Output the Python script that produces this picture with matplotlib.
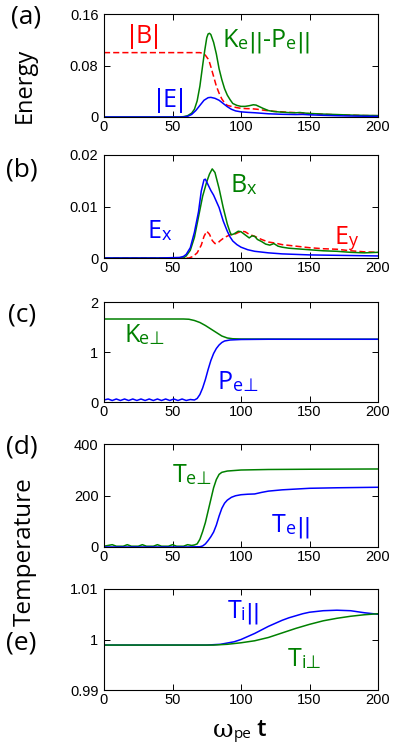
import matplotlib
matplotlib.use("Agg")
import matplotlib.pyplot as plt
from matplotlib.ticker import FixedLocator, FixedFormatter

GREEN = "#008000"
BLUE = "#0000ff"
RED = "#ff0000"
LAB_FONT = ["Open Sans", "DejaVu Sans"]
BAR_FONT = "DejaVu Sans"
TICK_FONT = "Liberation Sans"
PERP = "\u22a5"

# ---- panel (a): energy ----
ta_b = [0, 20, 40, 60, 70, 72, 74, 76, 77, 78, 80, 82, 84, 86, 88, 90, 94, 97, 100,
        104, 108, 112, 115, 118, 122, 126, 130, 135, 140, 145, 150, 160, 170, 180, 190, 200]
a_B = [0.1, 0.1, 0.1, 0.1, 0.1, 0.099, 0.096, 0.09, 0.085, 0.078, 0.063, 0.048, 0.037,
       0.028, 0.022, 0.018, 0.016, 0.0145, 0.0135, 0.013, 0.0128, 0.012, 0.011, 0.0102,
       0.0093, 0.0085, 0.008, 0.0072, 0.0068, 0.0062, 0.0052, 0.0042, 0.0034, 0.0028,
       0.0022, 0.002]
ta_k = [0, 20, 40, 55, 58, 61, 64, 66, 68, 70, 72, 73.5, 75, 76, 77, 78, 80, 82, 84,
        86, 88, 90, 92, 94, 97, 100, 103, 106, 109, 111, 113, 116, 120, 124, 130, 135,
        140, 143, 146, 150, 160, 170, 180, 190, 200]
a_K = [0, 0, 0, 0, 0.0005, 0.002, 0.006, 0.012, 0.025, 0.048, 0.08, 0.103, 0.123,
       0.129, 0.13, 0.128, 0.116, 0.098, 0.075, 0.058, 0.044, 0.034, 0.027, 0.021,
       0.018, 0.0165, 0.0165, 0.0175, 0.019, 0.0185, 0.0165, 0.0135, 0.01, 0.0085,
       0.0075, 0.0068, 0.0065, 0.007, 0.0062, 0.0055, 0.0045, 0.0038, 0.003, 0.0025,
       0.0022]
ta_e = [0, 20, 40, 58, 61, 64, 67, 70, 73, 76, 78, 81, 84, 87, 90, 93, 96, 100, 105,
        110, 115, 120, 130, 140, 145, 150, 160, 170, 180, 190, 200]
a_E = [0, 0, 0, 0, 0.001, 0.004, 0.01, 0.018, 0.026, 0.03, 0.0305, 0.029, 0.026,
       0.021, 0.016, 0.012, 0.0095, 0.008, 0.0072, 0.0066, 0.0058, 0.005, 0.0042,
       0.0038, 0.004, 0.0034, 0.0026, 0.002, 0.0015, 0.0012, 0.001]

# ---- panel (b): field components ----
tb_x = [0, 20, 40, 55, 58, 60, 63, 66, 69, 71, 73, 74, 76, 78, 80, 84, 87, 90, 92, 94,
        97, 100, 105, 110, 120, 130, 150, 175, 200]
b_Ex = [0, 0, 0, 0.0001, 0.0003, 0.0007, 0.002, 0.005, 0.009, 0.013, 0.0152, 0.0153,
        0.0142, 0.0131, 0.0122, 0.0098, 0.0072, 0.0052, 0.0041, 0.0033, 0.0026,
        0.0021, 0.0016, 0.0013, 0.001, 0.0008, 0.0006, 0.0005, 0.0004]
tb_bx = [0, 20, 40, 58, 60, 63, 66, 69, 72, 75, 77, 79, 81, 84, 87, 90, 92, 93, 95,
         98, 100, 102, 104, 106, 108, 110, 112, 115, 118, 121, 124, 127, 130, 135,
         140, 145, 150, 160, 170, 180, 190, 200]
b_Bx = [0, 0, 0, 0, 0.0004, 0.0015, 0.004, 0.008, 0.012, 0.0148, 0.0163, 0.0173,
        0.0166, 0.0135, 0.0098, 0.0066, 0.005, 0.0045, 0.0047, 0.0052, 0.0051,
        0.0047, 0.0043, 0.0039, 0.0043, 0.0042, 0.0036, 0.0032, 0.0027, 0.0025,
        0.0028, 0.0023, 0.0021, 0.0019, 0.0018, 0.0017, 0.0016, 0.0014, 0.0013,
        0.0011, 0.001, 0.0011]
tb_y = [0, 20, 40, 62, 65, 68, 71, 73, 75, 77, 79, 81, 83, 85, 88, 92, 96, 100, 103,
        106, 110, 115, 120, 125, 130, 140, 150, 160, 170, 180, 190, 200]
b_Ey = [0, 0, 0, 0, 0.0003, 0.001, 0.0025, 0.0042, 0.0052, 0.0046, 0.0034, 0.0028,
        0.0029, 0.0034, 0.004, 0.0045, 0.0047, 0.0052, 0.0051, 0.0046, 0.0042,
        0.0036, 0.0031, 0.0029, 0.0026, 0.0023, 0.002, 0.0018, 0.0017, 0.0014,
        0.0012, 0.0011]

# ---- panel (c): perpendicular energies ----
tc_k = [0, 20, 40, 58, 62, 66, 70, 74, 78, 82, 86, 90, 94, 100, 120, 150, 200]
c_K = [1.66, 1.66, 1.66, 1.66, 1.655, 1.63, 1.59, 1.53, 1.46, 1.39, 1.32, 1.28,
       1.265, 1.26, 1.258, 1.256, 1.255]
tc_p = [0, 3, 6, 9, 12, 15, 18, 21, 24, 27, 30, 33, 36, 39, 42, 45, 48, 51, 54, 57,
        60, 63, 66, 68, 70, 72, 74, 76, 78, 80, 82, 84, 86, 88, 92, 100, 120, 150, 200]
c_P = [0.04, 0.06, 0.03, 0.06, 0.03, 0.06, 0.03, 0.06, 0.03, 0.06, 0.03, 0.06, 0.03,
       0.06, 0.03, 0.06, 0.03, 0.06, 0.03, 0.06, 0.03, 0.05, 0.04, 0.07, 0.15, 0.28,
       0.45, 0.65, 0.83, 0.97, 1.07, 1.14, 1.19, 1.22, 1.24, 1.25, 1.255, 1.255, 1.255]

# ---- panel (d): electron temperatures ----
td_perp = [0, 3, 6, 9, 14, 17, 20, 25, 28, 31, 36, 39, 42, 47, 50, 53, 58, 61, 64,
           66, 68, 70, 72, 74, 76, 78, 80, 82, 84, 86, 90, 95, 100, 120, 150, 200]
d_perp = [3, 6, 9, 3, 3, 9, 3, 3, 9, 3, 3, 9, 3, 3, 9, 3, 3, 9, 6, 8, 12, 30, 60, 95,
          140, 185, 230, 262, 282, 290, 295, 297, 299, 301, 302, 303]
td_par = [0, 20, 40, 60, 70, 72, 74, 76, 78, 80, 82, 84, 86, 88, 90, 93, 96, 100, 105,
          110, 115, 120, 130, 150, 170, 200]
d_par = [0, 0, 0, 0, 1, 4, 12, 25, 40, 58, 85, 120, 150, 170, 182, 193, 199, 203,
         205, 206, 212, 217, 222, 228, 230, 232]

# ---- panel (e): ion temperatures ----
te_par = [0, 40, 75, 85, 95, 100, 105, 110, 115, 120, 125, 130, 135, 140, 145, 150,
          160, 170, 180, 190, 200]
e_par = [0.9989, 0.9989, 0.9989, 0.99905, 0.99955, 1.0, 1.0006, 1.0012, 1.0019,
         1.0026, 1.0032, 1.0038, 1.0043, 1.0047, 1.0051, 1.0054, 1.0057, 1.0058,
         1.0057, 1.0053, 1.005]
te_perp = [0, 40, 80, 90, 100, 110, 120, 130, 140, 150, 160, 170, 180, 190, 200]
e_perp = [0.9989, 0.9989, 0.9989, 0.99905, 0.99935, 0.99975, 1.0004, 1.0013, 1.0022,
          1.003, 1.0037, 1.0042, 1.0046, 1.0049, 1.0051]

x_ticks = [0, 50, 100, 150, 200]
y_ticks = [[0, 0.08, 0.16], [0, 0.01, 0.02], [0, 1, 2], [0, 200, 400], [0.99, 1, 1.01]]
y_labels = [["0", "0.08", "0.16"], ["0", "0.01", "0.02"], ["0", "1", "2"],
            ["0", "200", "400"], ["0.99", "1", "1.01"]]
panel_tags = ["(a)", "(b)", "(c)", "(d)", "(e)"]

BIG, SUB, BAR = 18, 13, 16
M = lambda s: (s, BIG, LAB_FONT)       # main letter
S = lambda s: (s, SUB, LAB_FONT)       # small subscript
B = (u"||", BAR, BAR_FONT)              # "parallel" bars


def label(ax, x, y, parts, color):
    # parts: list of (text, size, family); chained left to right
    s, size, fam = parts[0]
    t = ax.text(x, y, s, color=color, family=fam, fontsize=size,
                va="baseline", ha="left")
    for s, size, fam in parts[1:]:
        t = ax.annotate(s, xy=(1, 0), xycoords=t, color=color, family=fam,
                        fontsize=size, va="bottom", ha="left")
    return t


W, H = 393, 748
fig = plt.figure(figsize=(W / 100, H / 100), dpi=100)
boxes = [(14, 117), (155, 258), (302, 402), (444, 547), (589, 690)]
tag_x = [11, 6, 8, 6, 6]
tag_y = [17, 170, 315, 447, 643]
axes = []
for i, (top, bot) in enumerate(boxes):
    ax = fig.add_axes([104 / W, 1 - bot / H, 274 / W, (bot - top) / H])
    ax.set_xlim(0, 200)
    ax.set_ylim(y_ticks[i][0], y_ticks[i][-1])
    ax.xaxis.set_major_locator(FixedLocator(x_ticks))
    ax.yaxis.set_major_locator(FixedLocator(y_ticks[i]))
    ax.yaxis.set_major_formatter(FixedFormatter(y_labels[i]))
    ax.tick_params(direction="in", top=True, right=True, length=4, width=0.7,
                   labelsize=10.5, colors="black")
    ax.tick_params(axis="x", pad=2)
    ax.tick_params(axis="y", pad=4)
    for lab in ax.get_xticklabels() + ax.get_yticklabels():
        lab.set_family(TICK_FONT)
    for sp in ax.spines.values():
        sp.set_linewidth(0.8)
    fig.text(tag_x[i] / W, 1 - tag_y[i] / H, panel_tags[i],
             family=LAB_FONT, fontsize=19, va="center", ha="left")
    axes.append(ax)

lw = 1.1
ax = axes[0]
ax.plot(ta_b, a_B, color=RED, lw=lw, ls=(0, (4, 2)))
ax.plot(ta_k, a_K, color=GREEN, lw=lw)
ax.plot(ta_e, a_E, color=BLUE, lw=lw)
label(ax, 17.5, 0.115, [("|", 17, BAR_FONT), M("B"), ("|", 17, BAR_FONT)], RED)
label(ax, 86.5, 0.109, [M("K"), S("e"), B, M("-P"), S("e"), B], GREEN)
label(ax, 37, 0.016, [("|", 17, BAR_FONT), M("E"), ("|", 17, BAR_FONT)], BLUE)

ax = axes[1]
ax.plot(tb_y, b_Ey, color=RED, lw=lw, ls=(0, (4, 2)))
ax.plot(tb_bx, b_Bx, color=GREEN, lw=lw)
ax.plot(tb_x, b_Ex, color=BLUE, lw=lw)
label(ax, 32, 0.0039, [M("E"), S("x")], BLUE)
label(ax, 92, 0.0128, [M("B"), S("x")], GREEN)
label(ax, 168, 0.0027, [M("E"), S("y")], RED)

ax = axes[2]
ax.plot(tc_k, c_K, color=GREEN, lw=lw)
ax.plot(tc_p, c_P, color=BLUE, lw=lw)
label(ax, 14.6, 1.2, [M("K"), S("e" + PERP)], GREEN)
label(ax, 83, 0.26, [M("P"), S("e" + PERP)], BLUE)

ax = axes[3]
ax.plot(td_perp, d_perp, color=GREEN, lw=lw)
ax.plot(td_par, d_par, color=BLUE, lw=lw)
label(ax, 50, 254, [M("T"), S("e" + PERP)], GREEN)
label(ax, 122.6, 59, [M("T"), S("e"), B], BLUE)

ax = axes[4]
ax.plot(te_par, e_par, color=BLUE, lw=lw)
ax.plot(te_perp, e_perp, color=GREEN, lw=lw)
label(ax, 90, 1.0043, [M("T"), S("i"), B], BLUE)
label(ax, 134, 0.9947, [M("T"), S("i" + PERP)], GREEN)

fig.text(25 / W, 1 - 85 / H, "Energy", rotation=90, family=LAB_FONT, fontsize=17,
         va="center", ha="center")
fig.text(25 / W, 1 - 552 / H, "Temperature", rotation=90, family=LAB_FONT,
         fontsize=17.5, va="center", ha="center")

# x label: omega_pe t
w = fig.text(213 / W, 1 - 737 / H, "\u03c9", family="DejaVu Serif", fontsize=18,
             va="baseline", ha="left")
p = axes[4].annotate("pe", xy=(1, 0), xycoords=w, family=LAB_FONT, fontsize=11,
                     va="bottom", ha="left")
axes[4].annotate(" t", xy=(1, 0), xycoords=p, family=LAB_FONT, fontsize=17,
                 weight="semibold", va="bottom", ha="left")

fig.savefig("out.png", dpi=100)
